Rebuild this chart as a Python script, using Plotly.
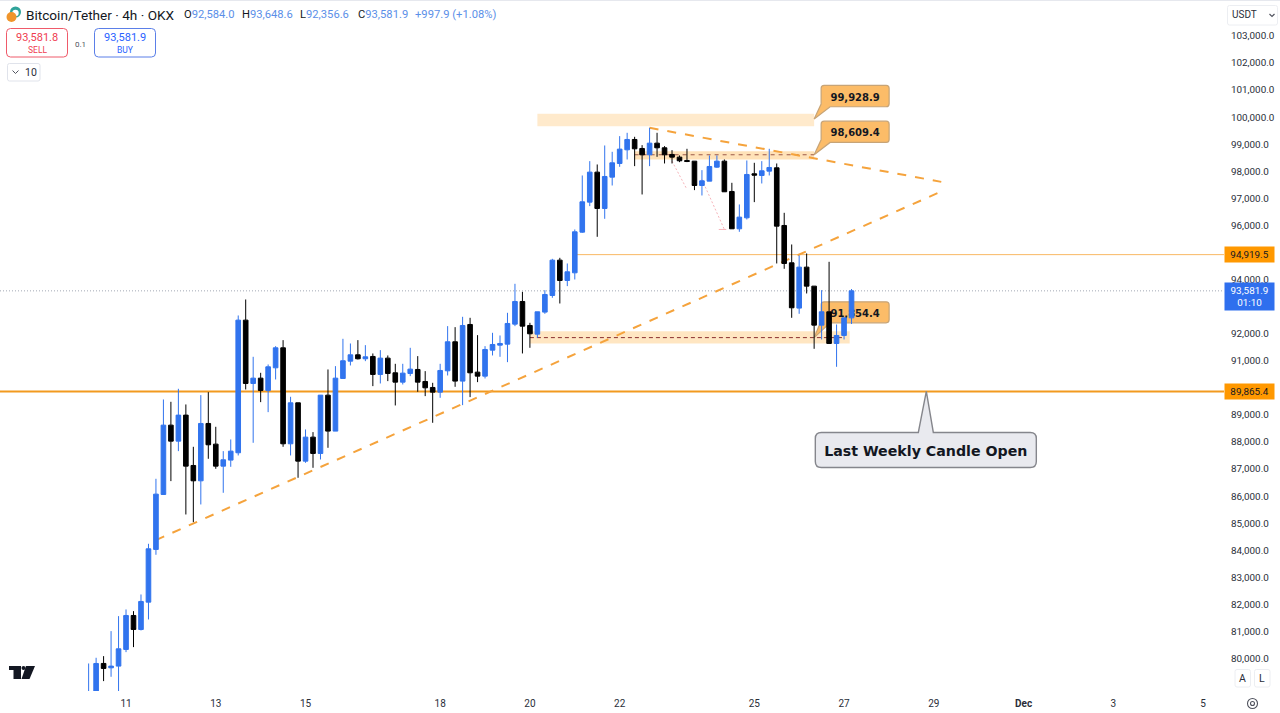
import pandas as pd
import plotly.graph_objects as go

# ---------- data ----------
first_candle = "2024-11-10 04:00"
opens = [78500, 78500, 79818, 79657, 79719, 80335, 81590, 81073, 82083, 84029, 86060, 88621, 88030, 88991, 87131, 86565, 88683, 87919, 87107, 87329, 87600, 92500, 90160, 90357, 89902, 90739, 91478, 87932, 89446, 87291, 88178, 87575, 89729, 88400, 90345, 90985, 91219, 91072, 91158, 90493, 91096, 90554, 90210, 90530, 90678, 90234, 90013, 89840, 90628, 91700, 90247, 92340, 90579, 90431, 91392, 91576, 91613, 92352, 93189, 92303, 91983, 92796, 93411, 94716, 93965, 94248, 95751, 96859, 97967, 96625, 97782, 98287, 98792, 99174, 98841, 98607, 99038, 98866, 98620, 98521, 98398, 98373, 97474, 97635, 98152, 98373, 97253, 95874, 96280, 97906, 97844, 98004, 98127, 95997, 94618, 92944, 94458, 93756, 92315, 92808, 91638, 91934, 92584]
highs = [79817, 80027, 80088, 81012, 81566, 81812, 81750, 82366, 84238, 86639, 89569, 89483, 89963, 89385, 87821, 89729, 89840, 88560, 87661, 88092, 92672, 93263, 91145, 90554, 90862, 91539, 91761, 89668, 89446, 88461, 88363, 89729, 90678, 90801, 91810, 91638, 91761, 91576, 91268, 91392, 91195, 90887, 90887, 91478, 91170, 90616, 90185, 90887, 92278, 92241, 92623, 92586, 91946, 91539, 92032, 91933, 92771, 93842, 93546, 92401, 92808, 93608, 94765, 94802, 94593, 95849, 97844, 98373, 98250, 98952, 98718, 99297, 99420, 99272, 98964, 99605, 99420, 98928, 98780, 98583, 98829, 98373, 98041, 98583, 98583, 98435, 97573, 96773, 98398, 98312, 98373, 98829, 98287, 96465, 95295, 94889, 94963, 93756, 93608, 94655, 92340, 92584, 93648.6]
lows = [78400, 78400, 79165, 79325, 78795, 80236, 80421, 81036, 81443, 83832, 86060, 86553, 87661, 85321, 85038, 85691, 87378, 87008, 86122, 87082, 87501, 89939, 87969, 89471, 89101, 90308, 87821, 87501, 86676, 87230, 87045, 87353, 87784, 88400, 90345, 90825, 91047, 90985, 90062, 90160, 90247, 89348, 90123, 90431, 89853, 89693, 88708, 89631, 90456, 90037, 89360, 89656, 90210, 90345, 91195, 91145, 90948, 92278, 91269, 91478, 91847, 92734, 93325, 93115, 93756, 94002, 95726, 96711, 95578, 96243, 97474, 98164, 98435, 98189, 97142, 98189, 98533, 98287, 98287, 98336, 98336, 97302, 97105, 97635, 98127, 97241, 95874, 95763, 96219, 96859, 97548, 97844, 94593, 94396, 92586, 92734, 93485, 91441, 91786, 91638, 90776, 91786, 92356.6]
closes = [78700, 79817, 79633, 79719, 80359, 81590, 81073, 82108, 84053, 86072, 88621, 88030, 88991, 87107, 86565, 88683, 87895, 87107, 87341, 87661, 92500, 90160, 90357, 89902, 90776, 91478, 87932, 89446, 87291, 88178, 87575, 89729, 88400, 90357, 91000, 91219, 91072, 91145, 90493, 91096, 90530, 90210, 90542, 90690, 90210, 90000, 89840, 90641, 91700, 90247, 92303, 90554, 90431, 91416, 91601, 91638, 92377, 93189, 92278, 91995, 92808, 93448, 94716, 93965, 94285, 95763, 96871, 97967, 96625, 97807, 98312, 98817, 99174, 98829, 98607, 99038, 98866, 98607, 98521, 98386, 98361, 97474, 97647, 98176, 98373, 97241, 95874, 96305, 97881, 97856, 98016, 98139, 95972, 94593, 92956, 94458, 93756, 92315, 92808, 91638, 91934, 92584, 93581.9]

price_ticks = [80000, 81000, 82000, 83000, 84000, 85000, 86000, 87000, 88000, 89000, 90000, 91000, 92000, 94000, 96000, 97000, 98000, 99000, 100000, 101000, 102000, 103000]
date_ticks = ["2024-11-11", "2024-11-13", "2024-11-15", "2024-11-18", "2024-11-20", "2024-11-22", "2024-11-25", "2024-11-27", "2024-11-29", "2024-12-01", "2024-12-03", "2024-12-05"]
date_labels = ["11", "13", "15", "18", "20", "22", "25", "27", "29", "<b>Dec</b>", "3", "5"]

weekly_open = 89865.4
resistance = 94919.5
last_price = 93581.9
zone_top_value = 99928.9
zone_mid_value = 98609.4
zone_low_value = 91854.4

# ---------- page geometry ----------
W, H = 1280, 713
PL_W, PL_T, PL_B = 1224, 1, 691
x_range = ["2024-11-08 04:36", "2024-12-05 11:12"]
y_range = [78800, 104289]
PX_HOURS = 4 / 7.479      # hours per pixel on the time scale
PX_PRICE = 36.94          # price per pixel on the price scale
BLUE = "#3174ee"
ORANGE = "#f5a33c"
TEXT = "#2a2e39"


def X(p):
    return p / PL_W


def Y(p):
    return 1 - (p - PL_T) / (PL_B - PL_T)


times = pd.date_range(first_candle, periods=len(opens), freq="4h")

fig = go.Figure(go.Candlestick(
    x=times, open=opens, high=highs, low=lows, close=closes,
    increasing=dict(line=dict(color=BLUE, width=1), fillcolor=BLUE),
    decreasing=dict(line=dict(color="#000000", width=1), fillcolor="#000000"),
    hoverinfo="skip", showlegend=False,
))

shapes = []
annots = []


def zone(x0, x1, y0, y1, alpha=0.2):
    shapes.append(dict(type="rect", xref="x", yref="y", x0=x0, x1=x1, y0=y0, y1=y1,
                       fillcolor=f"rgba(255,152,0,{alpha})", line_width=0, layer="below"))


def seg(x0, y0, x1, y1, color, width=1, dash="solid", layer="below"):
    shapes.append(dict(type="line", xref="x", yref="y", x0=x0, x1=x1, y0=y0, y1=y1,
                       line=dict(color=color, width=width, dash=dash), layer=layer))


def rrect(l, t, r, b, rad):
    return (f"M{X(l + rad)},{Y(t)} L{X(r - rad)},{Y(t)} Q{X(r)},{Y(t)} {X(r)},{Y(t + rad)} "
            f"L{X(r)},{Y(b - rad)} Q{X(r)},{Y(b)} {X(r - rad)},{Y(b)} L{X(l + rad)},{Y(b)} "
            f"Q{X(l)},{Y(b)} {X(l)},{Y(b - rad)} L{X(l)},{Y(t + rad)} Q{X(l)},{Y(t)} {X(l + rad)},{Y(t)} Z")


def box(l, t, r, b, rad, line, fill="#ffffff", width=1):
    shapes.append(dict(type="path", xref="paper", yref="paper", path=rrect(l, t, r, b, rad),
                       line=dict(color=line, width=width), fillcolor=fill, layer="above"))


def dot(cx, cy, r, fill, line="rgba(0,0,0,0)", width=0):
    shapes.append(dict(type="circle", xref="paper", yref="paper", x0=X(cx - r), x1=X(cx + r),
                       y0=Y(cy + r), y1=Y(cy - r), fillcolor=fill,
                       line=dict(color=line, width=width), layer="above"))


def poly(pts, fill="rgba(0,0,0,0)", line="rgba(0,0,0,0)", width=0, close=True):
    d = "M" + " L".join(f"{X(a)},{Y(b)}" for a, b in pts) + (" Z" if close else "")
    shapes.append(dict(type="path", xref="paper", yref="paper", path=d, fillcolor=fill,
                       line=dict(color=line, width=width), layer="above"))


def note(px, py, text, size=10, color=TEXT, anchor="left", family="Roboto"):
    annots.append(dict(xref="paper", yref="paper", x=X(px), y=Y(py), text=text, showarrow=False,
                       xanchor=anchor, yanchor="middle", borderpad=0,
                       font=dict(family=family, size=size, color=color)))


def callout(ax, ay, text, l, t, r, b, tail0, tail1, fill, line, size, lw=1.2, rad=3, tail_top=False):
    # pixel offsets around a tip anchored on the chart's own scales (y offsets grow upward)
    if tail_top:
        path = (f"M{l + rad},{t} L{tail0[0]},{tail0[1]} L0,0 L{tail1[0]},{tail1[1]} L{r - rad},{t} "
                f"Q{r},{t} {r},{t - rad} L{r},{b + rad} Q{r},{b} {r - rad},{b} L{l + rad},{b} "
                f"Q{l},{b} {l},{b + rad} L{l},{t - rad} Q{l},{t} {l + rad},{t} Z")
    else:
        path = (f"M{l + rad},{t} L{r - rad},{t} Q{r},{t} {r},{t - rad} L{r},{b + rad} Q{r},{b} {r - rad},{b} "
                f"L{tail1[0]},{tail1[1]} L0,0 L{tail0[0]},{tail0[1]} L{l},{b + rad} "
                f"L{l},{t - rad} Q{l},{t} {l + rad},{t} Z")
    shapes.append(dict(type="path", xref="x", yref="y", xsizemode="pixel", ysizemode="pixel",
                       xanchor=ax, yanchor=ay, path=path, fillcolor=fill,
                       line=dict(color=line, width=lw), layer="below"))
    a = pd.Timestamp(ax)
    shapes.append(dict(type="rect", xref="x", yref="y",
                       x0=str(a + pd.Timedelta(hours=l * PX_HOURS)),
                       x1=str(a + pd.Timedelta(hours=r * PX_HOURS)),
                       y0=ay + b * PX_PRICE, y1=ay + t * PX_PRICE,
                       fillcolor="rgba(0,0,0,0)", line=dict(width=0), layer="below",
                       label=dict(text=text, textposition="middle center",
                                  font=dict(family="DejaVu Sans", size=size, color="#131722"))))


# zones
zone("2024-11-20 04:00", "2024-11-26 08:00", 99665, 100123)
zone("2024-11-22 08:00", "2024-11-26 08:00", 98435, 98742, 0.28)
zone("2024-11-20 00:00", "2024-11-27 03:00", 91638, 92092, 0.24)

# reference lines
seg(x_range[0], last_price, x_range[1], last_price, "#a3a8b4", 1, "1px,2px")
seg("2024-11-21 00:00", resistance, x_range[1], resistance, "#f9b864", 1)
seg(x_range[0], weekly_open, x_range[1], weekly_open, "#f29a1f", 2)

# dashed levels inside the zones
seg("2024-11-22 08:00", zone_mid_value, "2024-11-26 08:00", zone_mid_value, "#9c5a4a", 1, "4px,4px")
seg("2024-11-20 00:00", zone_low_value, "2024-11-27 00:00", zone_low_value, "#8b2f2f", 1, "4px,3px")

# trend lines
seg("2024-11-11 16:00", 84376, "2024-11-29 04:00", 97253, ORANGE, 2, "9px,9px")
seg("2024-11-22 16:00", 99606, "2024-11-29 04:00", 97608, ORANGE, 2, "9px,9px")

# faint pink projection lines
PINK = "rgba(240,130,140,0.6)"
seg("2024-11-23 04:00", 98372, "2024-11-23 12:00", 97327, PINK, 1, "2px,2px")
seg("2024-11-23 20:00", 97696, "2024-11-24 08:00", 95849, PINK, 1, "2px,2px")
seg("2024-11-24 05:00", 95849, "2024-11-24 09:00", 95849, PINK, 1)

# callouts
CALL_FILL, CALL_LINE = "#fcbc68", "#c7a477"
callout("2024-11-26 08:00", zone_top_value, "<b>99,928.9</b>", 7, 33.6, 75, 12.3, (7, 15), (16, 12.3), CALL_FILL, CALL_LINE, 10)
callout("2024-11-26 08:00", zone_mid_value, "<b>98,609.4</b>", 7, 33.6, 75, 12.3, (7, 15), (16, 12.3), CALL_FILL, CALL_LINE, 10)
callout("2024-11-26 08:00", zone_low_value, "<b>91,854.4</b>", 7, 35.8, 75, 14.8, (7, 17), (16, 14.8), CALL_FILL, CALL_LINE, 10)
callout("2024-11-28 20:00", weekly_open, "<b>Last Weekly Candle Open</b>", -111, -41, 110, -76,
        (-8, -41), (7, -41), "#e9eaef", "#85868c", 14.2, lw=1.4, rad=6, tail_top=True)

# price tags on the scale
for price, label, bg, col, h_, shift in [
    (resistance, "94,919.5", "#ff9800", "#131722", 15, 0),
    (weekly_open, "89,865.4", "#ff9800", "#131722", 15, 0),
    (last_price, "93,581.9<br>01:10", "#2f6fee", "#ffffff", 27, -5.7),
]:
    annots.append(dict(xref="paper", yref="y", x=1.0, y=price, text=label, showarrow=False,
                       xanchor="left", yanchor="middle", width=49, height=h_, align="center",
                       bgcolor=bg, borderpad=0, yshift=shift,
                       font=dict(family="Roboto", size=9.9, color=col)))

# header
poly([(0, 0.5), (W, 0.5)], line="#e6e8ee", width=1, close=False)
dot(15.5, 12, 5.5, "#2fa39a")
dot(15.5, 13, 3.2, "#ffffff")
dot(11.5, 17, 5, "#f0952b")
note(25, 15, "Bitcoin/Tether · 4h · OKX", 13.6, "#131722")
VAL = "#5b8fe8"
for px, head, val in [(183, "O", "92,584.0"), (241, "H", "93,648.6"), (299, "L", "92,356.6"),
                      (357, "C", "93,581.9"), (414, "", "+997.9 (+1.08%)")]:
    note(px, 15, f'{head}<span style="color:{VAL}">{val}</span>', 11.2, "#131722")
box(6.5, 28.5, 67.5, 57, 4, "#ef5a6a")
note(37, 37.5, "93,581.8", 11, "#ef3d50", "center")
note(37, 50, "SELL", 8.5, "#ef3d50", "center")
note(80, 44, "0.1", 8, "#50535e", "center")
box(94.5, 28.5, 155.5, 57, 4, "#5b7fe8")
note(125, 37.5, "93,581.9", 11, "#2962ff", "center")
note(125, 50, "BUY", 8.5, "#2962ff", "center")
box(7.5, 63.5, 40, 81, 2, "#e0e3eb")
poly([(12.5, 70.5), (15.5, 73.5), (18.5, 70.5)], line="#50535e", width=1, close=False)
note(24, 72, "10", 10.5, "#2a2e39")

# currency button
box(1227.5, 5.5, 1277.5, 25, 2, "#eceef2")
note(1230.5, 15, "USDT", 10, "#2a2e39")
poly([(1269.5, 14), (1272, 16.5), (1274.5, 14)], line="#50535e", width=1.2, close=False)

# logo
poly([(9, 666), (21, 666), (21, 679), (13.5, 679), (13.5, 670), (9, 670)], fill="#131722")
dot(23.5, 668, 2, "#131722")
poly([(26, 666), (35, 666), (29.5, 679), (21.5, 679)], fill="#131722")

# bottom right buttons + gear
box(1235, 669.5, 1250.5, 687, 2, "#eceef2")
note(1242.7, 678.5, "A", 10.5, "#2a2e39", "center")
box(1254.5, 669.5, 1270, 687, 2, "#eceef2")
note(1262.2, 678.5, "L", 10.5, "#2a2e39", "center")
dot(1252.5, 703.5, 5, "rgba(0,0,0,0)", "#50535e", 1.1)
dot(1252.5, 703.5, 2, "rgba(0,0,0,0)", "#50535e", 1.1)

fig.update_layout(
    width=W, height=H,
    margin=dict(l=0, r=W - PL_W, t=PL_T, b=H - PL_B, pad=0),
    paper_bgcolor="#ffffff", plot_bgcolor="#ffffff",
    boxgap=0.12, hovermode=False, showlegend=False,
    shapes=shapes,
    annotations=annots,
    xaxis=dict(type="date", range=x_range, rangeslider=dict(visible=False), showgrid=False,
               zeroline=False, showline=False, tickvals=date_ticks, ticktext=date_labels,
               ticks="outside", ticklen=3, tickcolor="rgba(0,0,0,0)",
               tickfont=dict(family="Roboto", size=10, color=TEXT)),
    yaxis=dict(range=y_range, side="right", showgrid=False, zeroline=False, showline=False,
               tickvals=price_ticks, tickformat=",.1f", ticks="outside", ticklen=4,
               tickcolor="rgba(0,0,0,0)", tickfont=dict(family="Roboto", size=9.9, color=TEXT)),
)

fig.write_html("out.html", config=dict(displayModeBar=False),
               post_script="document.body.style.margin='0';document.body.style.overflow='hidden';")
